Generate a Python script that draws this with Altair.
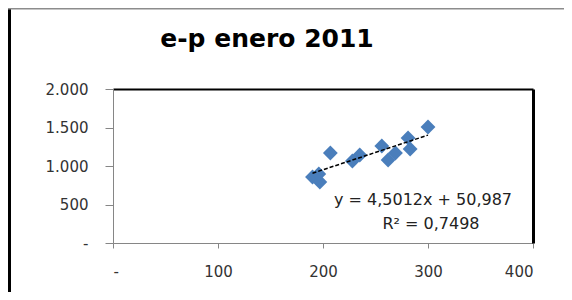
import altair as alt
import pandas as pd

# ---- data ----
x_vals = [190, 197, 196, 207, 228, 235, 256, 262, 269, 281, 283, 300]
y_vals = [857, 792, 896, 1169, 1065, 1143, 1260, 1078, 1169, 1364, 1221, 1506]
slope = 4.5012
intercept = 50.987
eq_text = "y = 4,5012x + 50,987"
r2_text = "R² = 0,7498"
title_text = "e-p enero 2011"
x_ticks = [0, 100, 200, 300, 400]
y_ticks = [0, 500, 1000, 1500, 2000]

df = pd.DataFrame({"x": x_vals, "y": y_vals})
trend_df = pd.DataFrame({"x": [min(x_vals), max(x_vals)]})

FONT = "DejaVu Sans"
xscale = alt.Scale(domain=[0, 400], nice=False, zero=True)
yscale = alt.Scale(domain=[0, 2000], nice=False, zero=True)

x_expr = "datum.value == 0 ? '-' : format(datum.value, 'd')"
y_expr = "datum.value == 0 ? '-' : replace(format(datum.value, ','), ',', '.')"

points = alt.Chart(df).mark_point(
    shape="diamond", filled=True, size=220, color="#4A7EBB", opacity=1
).encode(
    x=alt.X("x:Q", scale=xscale, axis=alt.Axis(
        values=x_ticks, labelExpr=x_expr, tickSize=5, labelPadding=16, title=None)),
    y=alt.Y("y:Q", scale=yscale, axis=alt.Axis(
        values=y_ticks, labelExpr=y_expr, tickSize=8, labelPadding=17, title=None)),
)

trend = alt.Chart(trend_df).transform_calculate(
    y=f"{slope} * datum.x + {intercept}"
).mark_line(color="black", strokeWidth=1.5, strokeDash=[4, 2]).encode(
    x=alt.X("x:Q", scale=xscale, axis=alt.Axis(
        orient="top", domainColor="black", domainWidth=2, ticks=False,
        labels=False, title=None)),
    y=alt.Y("y:Q", scale=yscale, axis=alt.Axis(
        orient="right", domainColor="black", domainWidth=3, ticks=False,
        labels=False, title=None)),
)

eq = alt.Chart(pd.DataFrame({"label": [eq_text]})).mark_text(
    font=FONT, fontSize=16, color="#222", align="center", baseline="middle"
).encode(x=alt.value(310), y=alt.value(111), text="label:N")

r2 = alt.Chart(pd.DataFrame({"label": [r2_text]})).mark_text(
    font=FONT, fontSize=16, color="#222", align="center", baseline="middle"
).encode(x=alt.value(318), y=alt.value(135), text="label:N")

title = alt.Chart(pd.DataFrame({"label": [title_text]})).mark_text(
    font=FONT, fontSize=25, fontWeight="bold", color="black",
    align="center", baseline="alphabetic"
).encode(x=alt.value(154), y=alt.value(-42), text="label:N")

frame_df = pd.DataFrame({"k": [0]})
left_line = alt.Chart(frame_df).mark_rule(color="black", strokeWidth=3).encode(
    x=alt.value(-103.5), y=alt.value(-81), y2=alt.value(203))
top_line = alt.Chart(frame_df).mark_rule(color="#8c8c8c", strokeWidth=1.5).encode(
    x=alt.value(-105), x2=alt.value(451), y=alt.value(-80.3))

chart = alt.layer(points, trend, eq, r2, title, left_line, top_line).resolve_axis(
    x="independent", y="independent"
).properties(
    width=420, height=154,
    autosize=alt.AutoSizeParams(type="none"),
    padding={"left": 105, "top": 81, "right": 31, "bottom": 49},
).configure_view(stroke=None).configure_axis(
    labelFont=FONT, labelFontSize=15, labelColor="#333",
    domainColor="#868686", tickColor="#868686", grid=False,
)

chart.save("out.html", embed_options={"renderer": "svg", "actions": False})
